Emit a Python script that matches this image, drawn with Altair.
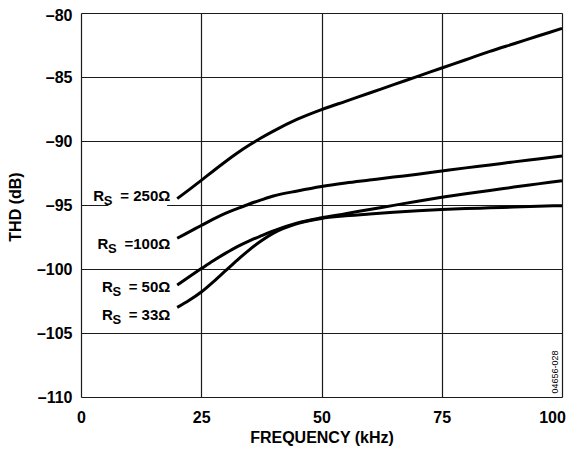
import altair as alt
import pandas as pd

# ---- data ----
freq = [20, 22.5, 25, 27.5, 30, 32.5, 35, 37.5, 40, 45, 50, 55, 60, 65, 70, 75, 80, 85, 90, 95, 100]
thd_250 = [-94.5, -93.8, -93.08, -92.34, -91.62, -90.94, -90.32, -89.75, -89.23, -88.3, -87.55, -86.9,
           -86.25, -85.6, -84.95, -84.3, -83.65, -83.0, -82.4, -81.8, -81.2]
thd_100 = [-97.6, -97.1, -96.6, -96.1, -95.65, -95.28, -94.92, -94.6, -94.3, -93.9, -93.55, -93.28,
           -93.05, -92.82, -92.6, -92.35, -92.1, -91.87, -91.63, -91.4, -91.17]
thd_50 = [-101.25, -100.6, -99.97, -99.35, -98.78, -98.25, -97.8, -97.4, -97.02, -96.4, -96.0, -95.68,
          -95.35, -95.03, -94.7, -94.4, -94.12, -93.87, -93.6, -93.35, -93.1]
thd_33 = [-103.0, -102.45, -101.8, -101.0, -100.15, -99.3, -98.5, -97.8, -97.2, -96.45, -96.05, -95.85,
          -95.7, -95.57, -95.45, -95.35, -95.28, -95.22, -95.16, -95.1, -95.05]

series_names = ["250", "100", "50", "33"]

label_rest = ["= 250Ω", "=100Ω", "= 50Ω", "= 33Ω"]
label_x_start = [2.56, 3.45, 4.37, 4.37]        # kHz
label_x_end = [18.57, 18.57, 18.57, 18.57]      # kHz
label_y = [-94.27, -98.05, -101.43, -103.6]     # dB

mask_x = [5.7]
mask_x2 = [17.9]
mask_y = [-94.82]
mask_y2 = [-95.18]

x_ticks = [0, 25, 50, 75, 100]
y_ticks = [-110, -105, -100, -95, -90, -85, -80]

# ---- tables ----
rows = []
for name, vals in zip(series_names, [thd_250, thd_100, thd_50, thd_33]):
    for f, v in zip(freq, vals):
        rows.append({"rs": name, "f": f, "thd": v})
curves = pd.DataFrame(rows)

labels = pd.DataFrame({"rs": series_names, "rest": label_rest, "xs": label_x_start,
                       "xe": label_x_end, "y": label_y,
                       "R": ["R"] * 4, "S": ["S"] * 4})
mask = pd.DataFrame({"x": mask_x, "x2": mask_x2, "y": mask_y, "y2": mask_y2})
note = pd.DataFrame({"t": ["04656-028"]})

FONT = "Liberation Sans"

xscale = alt.Scale(domain=[0, 100], nice=False)
yscale = alt.Scale(domain=[-110, -80], nice=False)

xaxis = alt.Axis(values=x_ticks, title="FREQUENCY (kHz)", grid=True, ticks=False, tickSize=0,
                 domain=False, labelPadding=12, labelFont=FONT, labelFontSize=16,
                 labelFontWeight="bold", labelColor="black", labelFlush=False,
                 labelOffset={"condition": {"test": "datum.value == 100", "value": -10}, "value": 0},
                 titleFont=FONT, titleFontSize=16, titleFontWeight="bold", titleColor="black",
                 titleY=40, titleBaseline="middle", titleAlign="center", titleX=240.5,
                 gridColor="#1a1a1a", gridWidth=1.2, gridOpacity=1)
yaxis = alt.Axis(values=y_ticks, title="THD (dB)", grid=True, ticks=False, tickSize=0,
                 domain=False, labelPadding=9, labelFont=FONT, labelFontSize=16,
                 labelFontWeight="bold", labelColor="black", labelFlush=False,
                 labelOffset={"condition": {"test": "datum.value == -80", "value": 2}, "value": 0},
                 labelExpr="datum.value < 0 ? '\u2013' + abs(datum.value) : datum.label",
                 titleFont=FONT, titleFontSize=16, titleFontWeight="bold", titleColor="black",
                 titleAngle=270, titleX=-66, titleY=193.5, titleAlign="center",
                 titleBaseline="middle",
                 gridColor="#1a1a1a", gridWidth=1.2, gridOpacity=1)

base_lines = alt.Chart(curves).mark_line(color="black", strokeWidth=3, interpolate="monotone").encode(
    x=alt.X("f:Q", scale=xscale, axis=xaxis),
    y=alt.Y("thd:Q", scale=yscale, axis=yaxis),
    detail="rs:N",
)

mask_layer = alt.Chart(mask).mark_rect(color="white").encode(
    x=alt.X("x:Q", scale=xscale), x2="x2:Q",
    y=alt.Y("y:Q", scale=yscale), y2="y2:Q",
)

txt_R = alt.Chart(labels).mark_text(align="left", baseline="middle", font=FONT, fontSize=15,
                                    fontWeight="bold", color="black").encode(
    x=alt.X("xs:Q", scale=xscale), y=alt.Y("y:Q", scale=yscale), text="R:N")
txt_S = alt.Chart(labels).mark_text(align="left", baseline="middle", font=FONT, fontSize=13,
                                    fontWeight="bold", color="black", dx=10.5, dy=5).encode(
    x=alt.X("xs:Q", scale=xscale), y=alt.Y("y:Q", scale=yscale), text="S:N")
txt_rest = alt.Chart(labels).mark_text(align="right", baseline="middle", font=FONT, fontSize=15,
                                       fontWeight="bold", color="black").encode(
    x=alt.X("xe:Q", scale=xscale), y=alt.Y("y:Q", scale=yscale), text="rest:N")

note_layer = alt.Chart(note).mark_text(angle=270, font=FONT, fontSize=9, color="black",
                                       align="center", baseline="middle").encode(
    x=alt.value(474), y=alt.value(359), text="t:N")

chart = alt.layer(mask_layer, base_lines, txt_R, txt_S, txt_rest, note_layer).properties(
    width=481, height=384,
    autosize=alt.AutoSizeParams(type="none"),
    padding={"left": 73, "top": 5, "right": 4, "bottom": 49},
).configure_view(stroke="black", strokeWidth=2).configure(background="white")

chart.save("out.html", embed_options={"renderer": "svg", "actions": False})
